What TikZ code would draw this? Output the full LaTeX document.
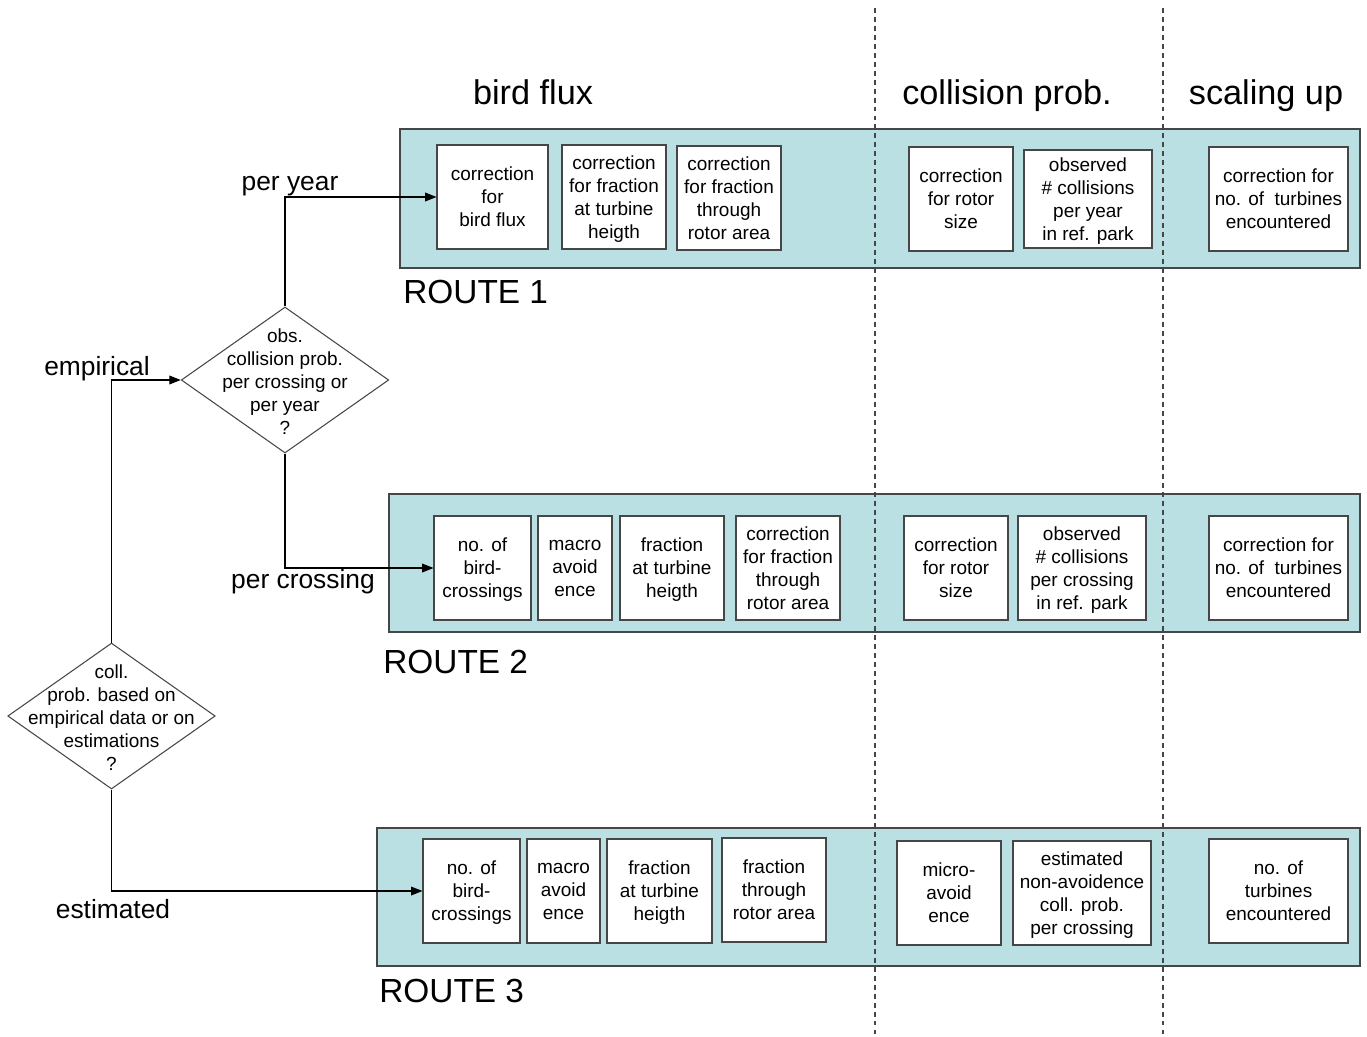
\documentclass[tikz,border=0pt]{standalone}
\usepackage{fontspec}
\setmainfont{Liberation Sans}
\usetikzlibrary{shapes.geometric,arrows.meta}

\definecolor{routefill}{RGB}{186,224,227}
\definecolor{edgegray}{RGB}{70,70,70}

\tikzset{
  every node/.style={font=\fontsize{10.8}{13.1}\selectfont},
  route/.style={draw=edgegray, line width=0.8pt, fill=routefill, inner sep=0pt},
  box/.style={draw=edgegray, line width=0.6pt, fill=white, align=center,
    inner sep=0pt, minimum height=2.08cm, minimum width=#1*0.02cm,
    text depth=-6pt},
  decision/.style={diamond, draw=edgegray, line width=0.6pt, inner sep=0pt,
    minimum width=4.15cm, minimum height=2.92cm},
  flow/.style={line width=0.6pt, -{Triangle[length=6.5pt,width=5pt]}},
  phase/.style={font=\fontsize{19.5}{22}\selectfont, anchor=base},
  routename/.style={font=\fontsize{19}{22}\selectfont, anchor=west, inner sep=0pt},
  choice/.style={font=\fontsize{15}{18}\selectfont, anchor=base},
  sep/.style={draw=edgegray, line width=0.6pt, dash pattern=on 2.8pt off 2.3pt}
}

\begin{document}
\begin{tikzpicture}[x=0.02cm, y=-0.02cm]
\useasboundingbox (0,0) rectangle (1367,1036);

% phase headings
\node[phase] (Hflux) at (533,104) {bird flux};
\node[phase] (Hcoll) at (1007,104) {collision prob.};
\node[phase] (Hscale) at (1266,104) {scaling up};

% route bands
\node[route, minimum width=19.2cm, minimum height=2.78cm] (R1) at (880,198.5) {};
\node[route, minimum width=19.42cm, minimum height=2.76cm] (R2) at (874.5,563) {};
\node[route, minimum width=19.66cm, minimum height=2.76cm] (R3) at (868.5,897) {};
\node[routename] (R1name) at (403,292) {ROUTE 1};
\node[routename] (R2name) at (383,662) {ROUTE 2};
\node[routename] (R3name) at (379,991) {ROUTE 3};

% phase borders
\draw[sep] (875,8) -- (875,1036);
\draw[sep] (1163,8) -- (1163,1036);

% route 1
\node[box=111] (B11) at (492.5,197) {correction\\for\\bird flux};
\node[box=104] (B12) at (614,197) {correction\\for fraction\\at turbine\\heigth};
\node[box=104] (B13) at (729,198) {correction\\for fraction\\through\\rotor area};
\node[box=104] (B14) at (961,199) {correction\\for rotor\\size};
\node[box=128, minimum height=1.96cm] (B15) at (1088,199) {observed\\\# collisions\\per year\\in ref. park};
\node[box=139] (B16) at (1278.5,199) {correction for\\no. of\ \ turbines\\encountered};

% route 2
\node[box=97] (B21) at (482.5,568) {no. of\\bird-\\crossings};
\node[box=74] (B22) at (575,568) {macro\\avoid\\ence};
\node[box=104] (B23) at (672,568) {fraction\\at turbine\\heigth};
\node[box=104] (B24) at (788,568) {correction\\for fraction\\through\\rotor area};
\node[box=104] (B25) at (956,568) {correction\\for rotor\\size};
\node[box=128] (B26) at (1082,568) {observed\\\# collisions\\per crossing\\in ref. park};
\node[box=139] (B27) at (1278.5,568) {correction for\\no. of\ \ turbines\\encountered};

% route 3
\node[box=97] (B31) at (471.5,891) {no. of\\bird-\\crossings};
\node[box=73] (B32) at (563.5,891) {macro\\avoid\\ence};
\node[box=105] (B33) at (659.5,891) {fraction\\at turbine\\heigth};
\node[box=104] (B34) at (774,890) {fraction\\through\\rotor area};
\node[box=104] (B35) at (949,893) {micro-\\avoid\\ence};
\node[box=138] (B36) at (1082,893) {estimated\\non-avoidence\\coll. prob.\\per crossing};
\node[box=139] (B37) at (1278.5,891) {no. of\\turbines\\encountered};

% decisions
\node[decision] (D1) at (285,380) {};
\node[align=center] (D1text) at (285,382) {obs.\\collision prob.\\per crossing or\\per year\\?};
\node[decision] (D2) at (111.5,716) {};
\node[align=center] (D2text) at (111.5,718) {coll.\\prob. based on\\empirical data or on\\estimations\\?};

% connectors
\draw[flow] (D2.north) |- (D1.west);
\draw[flow] (D2.south) |- (B31.west);
\draw[flow] (D1.north) |- (B11.west);
\draw[flow] (D1.south) |- (B21.west);

\node[choice] (Lemp) at (97,375) {empirical};
\node[choice] (Lest) at (113,918) {estimated};
\node[choice] (Lyear) at (290,190) {per year};
\node[choice] (Lcross) at (303,588) {per crossing};
\end{tikzpicture}
\end{document}
